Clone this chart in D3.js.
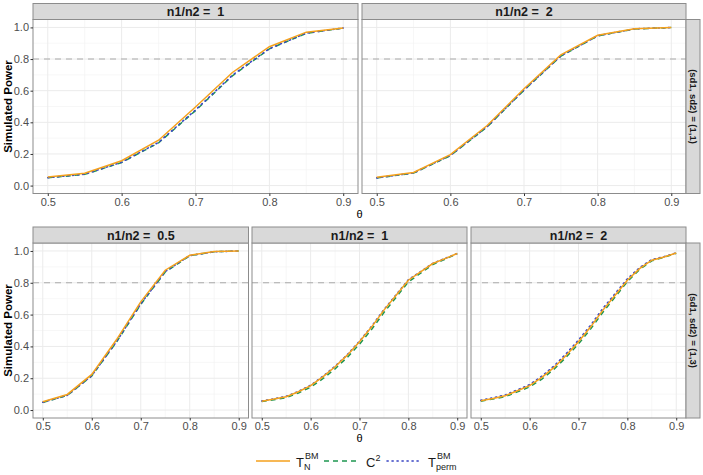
<!DOCTYPE html>
<html>
<head>
<meta charset="utf-8">
<script src="https://cdn.jsdelivr.net/npm/d3@7"></script>
<style>
  body { margin: 0; background: #fff; }
  text { font-family: "Liberation Sans", Arial, sans-serif; }
</style>
</head>
<body>
<div id="canvas"></div>
<script>
"use strict"

let svgWidth = 703
let svgHeight = 475

// theta grids
const thetaCoarse = [0.5, 0.55, 0.6, 0.65, 0.7, 0.75, 0.8, 0.85, 0.9]
const thetaFine = [0.5, 0.525, 0.55, 0.575, 0.6, 0.625, 0.65, 0.675, 0.7, 0.725, 0.75, 0.775, 0.8, 0.825, 0.85, 0.875, 0.9]

const xTicks = [0.5, 0.6, 0.7, 0.8, 0.9]
const yTicks = [0, 0.2, 0.4, 0.6, 0.8, 1.0]
const seriesNames = ["TN", "C2", "Tperm"]

// (sd1, sd2) = (1,1)
const tnA1 = [0.055, 0.078, 0.157, 0.287, 0.497, 0.715, 0.878, 0.970, 0.997]
const c2A1 = [0.049, 0.071, 0.146, 0.270, 0.474, 0.694, 0.864, 0.963, 0.996]
const tpA1 = [0.050, 0.072, 0.148, 0.273, 0.478, 0.698, 0.866, 0.964, 0.996]

const tnA2 = [0.052, 0.083, 0.196, 0.380, 0.612, 0.826, 0.950, 0.992, 0.999]
const c2A2 = [0.048, 0.079, 0.189, 0.371, 0.603, 0.818, 0.946, 0.990, 0.999]
const tpA2 = [0.049, 0.080, 0.191, 0.373, 0.605, 0.820, 0.947, 0.991, 0.999]

// (sd1, sd2) = (1,3)
const tnB05 = [0.052, 0.098, 0.224, 0.440, 0.680, 0.879, 0.973, 0.996, 1.0]
const c2B05 = [0.048, 0.092, 0.214, 0.425, 0.664, 0.868, 0.970, 0.995, 1.0]
const tpB05 = [0.049, 0.093, 0.216, 0.428, 0.668, 0.871, 0.971, 0.995, 1.0]

const tnB1 = [0.056, 0.069, 0.084, 0.115, 0.153, 0.209, 0.272, 0.345, 0.429, 0.523, 0.628, 0.722, 0.816, 0.868, 0.921, 0.952, 0.984]
const c2B1 = [0.053, 0.065, 0.078, 0.107, 0.144, 0.197, 0.259, 0.331, 0.414, 0.508, 0.613, 0.709, 0.805, 0.860, 0.915, 0.948, 0.983]
const tpB1 = [0.057, 0.070, 0.086, 0.117, 0.156, 0.212, 0.275, 0.348, 0.433, 0.527, 0.631, 0.725, 0.819, 0.870, 0.922, 0.953, 0.984]

const tnB2 = [0.059, 0.073, 0.090, 0.121, 0.153, 0.205, 0.268, 0.345, 0.429, 0.523, 0.628, 0.722, 0.816, 0.889, 0.942, 0.962, 0.987]
const c2B2 = [0.056, 0.069, 0.084, 0.114, 0.145, 0.195, 0.257, 0.333, 0.416, 0.510, 0.615, 0.711, 0.807, 0.883, 0.938, 0.960, 0.986]
const tpB2 = [0.061, 0.077, 0.095, 0.127, 0.160, 0.213, 0.277, 0.355, 0.440, 0.534, 0.639, 0.732, 0.825, 0.895, 0.946, 0.964, 0.988]

let colors = { TN: "#F5A11C", C2: "#1E9650", Tperm: "#3A46C4" }
let dashes = { TN: null, C2: "5,4", Tperm: "1.2,3.8" }

// panel geometry
let rows = [
    { top: 19.5, bottom: 193.5, stripTop: 3.5, label: "(sd1, sd2) = (1,1)", axisTitleY: 218 },
    { top: 243, bottom: 418, stripTop: 227, label: "(sd1, sd2) = (1,3)", axisTitleY: 442 }
]

let panels = [
    { row: 0, x0: 33, x1: 358, ratio: "1", theta: thetaCoarse, values: [tnA1, c2A1, tpA1] },
    { row: 0, x0: 362, x1: 686, ratio: "2", theta: thetaCoarse, values: [tnA2, c2A2, tpA2] },
    { row: 1, x0: 33, x1: 248.5, ratio: "0.5", theta: thetaCoarse, values: [tnB05, c2B05, tpB05] },
    { row: 1, x0: 252, x1: 467, ratio: "1", theta: thetaFine, values: [tnB1, c2B1, tpB1] },
    { row: 1, x0: 471, x1: 686, ratio: "2", theta: thetaFine, values: [tnB2, c2B2, tpB2] }
]

let svg = d3.select("#canvas")
    .append("svg")
    .attr("width", svgWidth)
    .attr("height", svgHeight)

svg.append("rect")
    .attr("width", svgWidth)
    .attr("height", svgHeight)
    .attr("fill", "white")

panels.forEach(function (p) {
    let r = rows[p.row]
    let xScale = d3.scaleLinear().domain([0.48, 0.92]).range([p.x0, p.x1])
    let yScale = d3.scaleLinear().domain([-0.05, 1.05]).range([r.bottom, r.top])

    let g = svg.append("g")

    /* grid lines */
    let minorX = [0.55, 0.65, 0.75, 0.85]
    let minorY = [0.1, 0.3, 0.5, 0.7, 0.9]
    g.selectAll("line.minx").data(minorX).enter().append("line")
        .attr("x1", d => xScale(d)).attr("x2", d => xScale(d))
        .attr("y1", r.top).attr("y2", r.bottom)
        .attr("stroke", "#F2F2F2").attr("stroke-width", 0.6)
    g.selectAll("line.miny").data(minorY).enter().append("line")
        .attr("y1", d => yScale(d)).attr("y2", d => yScale(d))
        .attr("x1", p.x0).attr("x2", p.x1)
        .attr("stroke", "#F2F2F2").attr("stroke-width", 0.6)
    g.selectAll("line.majx").data(xTicks).enter().append("line")
        .attr("x1", d => xScale(d)).attr("x2", d => xScale(d))
        .attr("y1", r.top).attr("y2", r.bottom)
        .attr("stroke", "#EBEBEB").attr("stroke-width", 1)
    g.selectAll("line.majy").data(yTicks).enter().append("line")
        .attr("y1", d => yScale(d)).attr("y2", d => yScale(d))
        .attr("x1", p.x0).attr("x2", p.x1)
        .attr("stroke", "#EBEBEB").attr("stroke-width", 1)

    /* reference line at 0.8 */
    g.append("line")
        .attr("x1", p.x0).attr("x2", p.x1)
        .attr("y1", yScale(0.8)).attr("y2", yScale(0.8))
        .attr("stroke", "#AAAAAA").attr("stroke-width", 1.1)
        .attr("stroke-dasharray", "6,5")

    /* curves: green and blue first, orange on top */
    let order = [1, 2, 0]
    order.forEach(function (k) {
        let name = seriesNames[k]
        let pts = p.theta.map((t, i) => [t, p.values[k][i]])
        let line = d3.line().x(d => xScale(d[0])).y(d => yScale(d[1]))
        g.append("path")
            .attr("d", line(pts))
            .attr("fill", "none")
            .attr("stroke", colors[name])
            .attr("stroke-width", name === "Tperm" ? 1.6 : 1.5)
            .attr("stroke-dasharray", dashes[name])
            .attr("stroke-linecap", name === "Tperm" ? "round" : "butt")
    })

    /* panel border */
    g.append("rect")
        .attr("x", p.x0).attr("y", r.top)
        .attr("width", p.x1 - p.x0).attr("height", r.bottom - r.top)
        .attr("fill", "none").attr("stroke", "#8C8C8C").attr("stroke-width", 1)

    /* top strip */
    g.append("rect")
        .attr("x", p.x0).attr("y", r.stripTop)
        .attr("width", p.x1 - p.x0).attr("height", r.top - r.stripTop)
        .attr("fill", "#D9D9D9").attr("stroke", "#8C8C8C").attr("stroke-width", 1)
    g.append("text")
        .attr("x", (p.x0 + p.x1) / 2)
        .attr("y", (r.stripTop + r.top) / 2 + 4.5)
        .attr("text-anchor", "middle")
        .attr("font-size", "12.5px")
        .attr("font-weight", "bold")
        .attr("fill", "#1A1A1A")
        .attr("xml:space", "preserve")
        .text("n1/n2 =  " + p.ratio)

    /* x axis */
    let xAxis = d3.axisBottom(xScale).tickValues(xTicks).tickSize(2.5).tickPadding(2)
        .tickFormat(d3.format(".1f"))
    let ax = g.append("g")
        .attr("transform", `translate(0,${r.bottom})`)
        .call(xAxis)
    ax.select(".domain").remove()
    ax.selectAll("line").attr("stroke", "#333333")
    ax.selectAll("text").attr("fill", "#4D4D4D").attr("font-size", "11px")
        .attr("font-family", "Liberation Sans, Arial, sans-serif")

    /* y axis only on left-most panels */
    if (p.x0 < 40) {
        let yAxis = d3.axisLeft(yScale).tickValues(yTicks).tickSize(2.5).tickPadding(1.5)
            .tickFormat(d3.format(".1f"))
        let ay = g.append("g")
            .attr("transform", `translate(${p.x0},0)`)
            .call(yAxis)
        ay.select(".domain").remove()
        ay.selectAll("line").attr("stroke", "#333333")
        ay.selectAll("text").attr("fill", "#4D4D4D").attr("font-size", "11px")
            .attr("font-family", "Liberation Sans, Arial, sans-serif")
    }
})

/* row strips and axis titles */
rows.forEach(function (r) {
    svg.append("rect")
        .attr("x", 686).attr("y", r.top)
        .attr("width", 14).attr("height", r.bottom - r.top)
        .attr("fill", "#D9D9D9").attr("stroke", "#8C8C8C").attr("stroke-width", 1)
    let cy = (r.top + r.bottom) / 2
    svg.append("text")
        .attr("transform", `translate(689.5,${cy}) rotate(90)`)
        .attr("text-anchor", "middle")
        .attr("font-size", "9.5px")
        .attr("font-weight", "bold")
        .attr("fill", "#1A1A1A")
        .text(r.label)

    svg.append("text")
        .attr("transform", `translate(12,${cy}) rotate(-90)`)
        .attr("text-anchor", "middle")
        .attr("font-size", "11.5px")
        .attr("font-weight", "bold")
        .attr("fill", "black")
        .text("Simulated Power")

    svg.append("text")
        .attr("x", 359.5)
        .attr("y", r.axisTitleY)
        .attr("text-anchor", "middle")
        .attr("font-size", "11px")
        .attr("font-family", "Liberation Serif, Times, serif")
        .text("θ")
})

/* legend */
let legend = svg.append("g").attr("transform", "translate(0,461)")

let legendItems = [
    { name: "TN", x0: 256, x1: 290 },
    { name: "C2", x0: 324, x1: 356 },
    { name: "Tperm", x0: 387, x1: 420 }
]

legendItems.forEach(function (d) {
    legend.append("line")
        .attr("x1", d.x0).attr("x2", d.x1)
        .attr("y1", 0).attr("y2", 0)
        .attr("stroke", colors[d.name])
        .attr("stroke-width", 1.6)
        .attr("stroke-dasharray", dashes[d.name])
        .attr("stroke-linecap", d.name === "Tperm" ? "round" : "butt")
})

// T_N^BM
let t1 = legend.append("text").attr("x", 296).attr("y", 6).attr("font-size", "13px").attr("fill", "#1A1A1A")
t1.append("tspan").text("T")
t1.append("tspan").attr("font-size", "9px").attr("dy", 3).text("N")
t1.append("tspan").attr("font-size", "9px").attr("x", 305).attr("dy", -11).text("BM")

// C^2
let t2 = legend.append("text").attr("x", 366).attr("y", 6).attr("font-size", "13px").attr("fill", "#1A1A1A")
t2.append("tspan").text("C")
t2.append("tspan").attr("font-size", "9px").attr("dy", -6).text("2")

// T_perm^BM
let t3 = legend.append("text").attr("x", 428).attr("y", 6).attr("font-size", "13px").attr("fill", "#1A1A1A")
t3.append("tspan").text("T")
t3.append("tspan").attr("font-size", "9px").attr("dy", 3).text("perm")
t3.append("tspan").attr("font-size", "9px").attr("x", 437).attr("dy", -11).text("BM")
</script>
</body>
</html>
